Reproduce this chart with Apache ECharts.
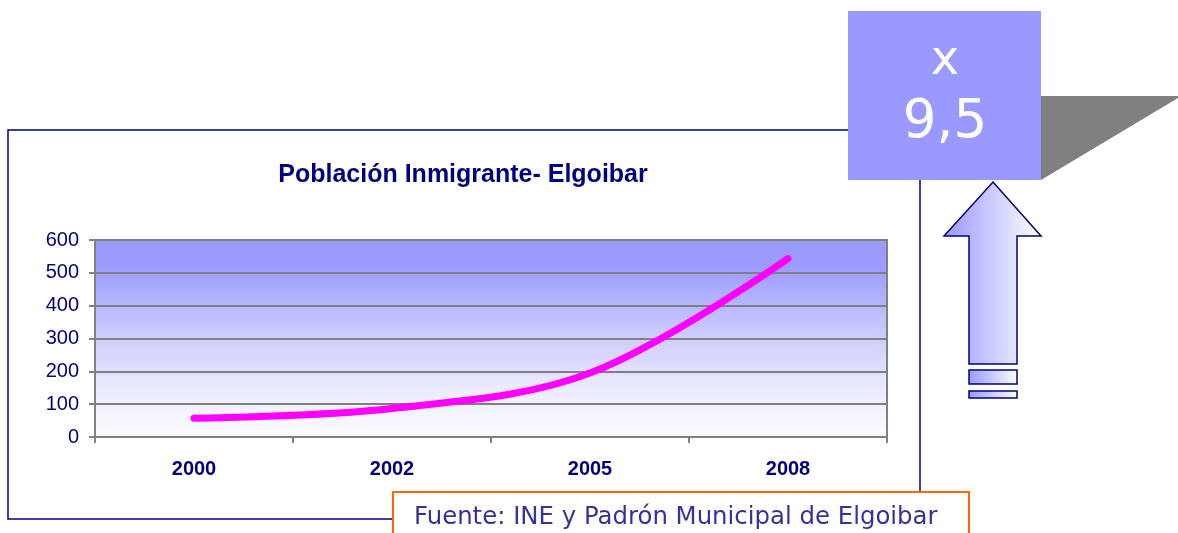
<!DOCTYPE html>
<html>
<head>
<meta charset="utf-8">
<script src="https://cdn.jsdelivr.net/npm/echarts@6/dist/echarts.min.js"></script>
<style>
html,body{margin:0;padding:0;background:#fff;}
#chart{width:1178px;height:533px;}
</style>
</head>
<body>
<div id="chart"></div>
<script>
const categories = ['2000', '2002', '2005', '2008'];
const values = [57, 87, 195, 543];
const yTicks = [0, 100, 200, 300, 400, 500, 600];
const titleText = 'Población Inmigrante- Elgoibar';
const factorLines = ['x', '9,5'];
const sourceText = 'Fuente: INE y Padrón Municipal de Elgoibar';

const navy = '#000080';
const chart = echarts.init(document.getElementById('chart'));
const arrowFill = () => new echarts.graphic.LinearGradient(0, 0, 1, 0, [{ offset: 0, color: '#9999FF' }, { offset: 1, color: '#FFFFFF' }]);

const option = {
  backgroundColor: '#ffffff',
  animation: false,
  title: {
    text: titleText,
    left: 458, top: 158, textAlign: 'center',
    textStyle: { color: navy, fontSize: 25, fontWeight: 'bold', fontFamily: 'Liberation Sans, Arial, sans-serif' }
  },
  grid: {
    left: 95, top: 240, width: 792, height: 197,
    show: true,
    borderColor: '#808080', borderWidth: 2,
    backgroundColor: new echarts.graphic.LinearGradient(0, 0, 0, 1, [
      { offset: 0, color: '#9999FF' },
      { offset: 0.15, color: '#9D9DFF' },
      { offset: 0.45, color: '#C8C8FF' },
      { offset: 0.75, color: '#EBEBFF' },
      { offset: 1, color: '#FCFCFF' }
    ])
  },
  xAxis: {
    type: 'category', data: categories, boundaryGap: true,
    axisLine: { show: true, lineStyle: { color: '#808080', width: 2 } },
    axisTick: { show: true, length: 6, lineStyle: { color: '#808080', width: 2 } },
    axisLabel: { color: navy, fontSize: 20, fontWeight: 'bold', margin: 22, fontFamily: 'Liberation Sans, Arial, sans-serif' },
    splitLine: { show: false }
  },
  yAxis: {
    type: 'value', min: yTicks[0], max: yTicks[yTicks.length - 1], interval: yTicks[1] - yTicks[0],
    axisLine: { show: true, lineStyle: { color: '#808080', width: 2 } },
    axisTick: { show: true, length: 6, lineStyle: { color: '#808080', width: 2 } },
    axisLabel: { color: navy, fontSize: 20, margin: 16, fontFamily: 'Liberation Sans, Arial, sans-serif' },
    splitLine: { show: true, lineStyle: { color: '#808080', width: 2 } }
  },
  series: [{
    type: 'line', data: values, smooth: 0.35, symbol: 'none',
    lineStyle: { color: '#FF00FF', width: 7, cap: 'round' }
  }],
  graphic: [
    { type: 'rect', z: -10, shape: { x: 8, y: 130, width: 912, height: 389 },
      style: { fill: 'none', stroke: navy, lineWidth: 1.5 } },
    { type: 'polygon', z: 10, shape: { points: [[1041, 96], [1178, 96], [1178, 98], [1041, 180]] },
      style: { fill: '#808080' } },
    { type: 'rect', z: 11, shape: { x: 848, y: 11, width: 193, height: 169 },
      style: { fill: '#9999FF' } },
    { type: 'text', z: 12, x: 945, y: 62,
      style: { text: factorLines[0], fill: '#ffffff', fontSize: 48, fontFamily: 'DejaVu Sans, Verdana, sans-serif', align: 'center', verticalAlign: 'middle' } },
    { type: 'text', z: 12, x: 945, y: 123,
      style: { text: factorLines[1], fill: '#ffffff', fontSize: 53, fontFamily: 'DejaVu Sans, Verdana, sans-serif', align: 'center', verticalAlign: 'middle' } },
    { type: 'polygon', z: 10, shape: { points: [[993, 182], [1041, 236], [1017, 236], [1017, 364], [969, 364], [969, 236], [944, 236]] },
      style: { fill: arrowFill(), stroke: navy, lineWidth: 1.5 } },
    { type: 'rect', z: 10, shape: { x: 969, y: 370, width: 48, height: 14 },
      style: { fill: arrowFill(), stroke: navy, lineWidth: 1.5 } },
    { type: 'rect', z: 10, shape: { x: 969, y: 391, width: 48, height: 7 },
      style: { fill: arrowFill(), stroke: navy, lineWidth: 1.5 } },
    { type: 'rect', z: 10, shape: { x: 393, y: 492, width: 576, height: 60 },
      style: { fill: '#ffffff', stroke: '#FF6600', lineWidth: 2 } },
    { type: 'text', z: 11, x: 414, y: 518,
      style: { text: sourceText, fill: '#333399', fontSize: 24.4, fontFamily: 'DejaVu Sans, Verdana, sans-serif', align: 'left', verticalAlign: 'middle' } }
  ]
};
chart.setOption(option);
</script>
</body>
</html>
